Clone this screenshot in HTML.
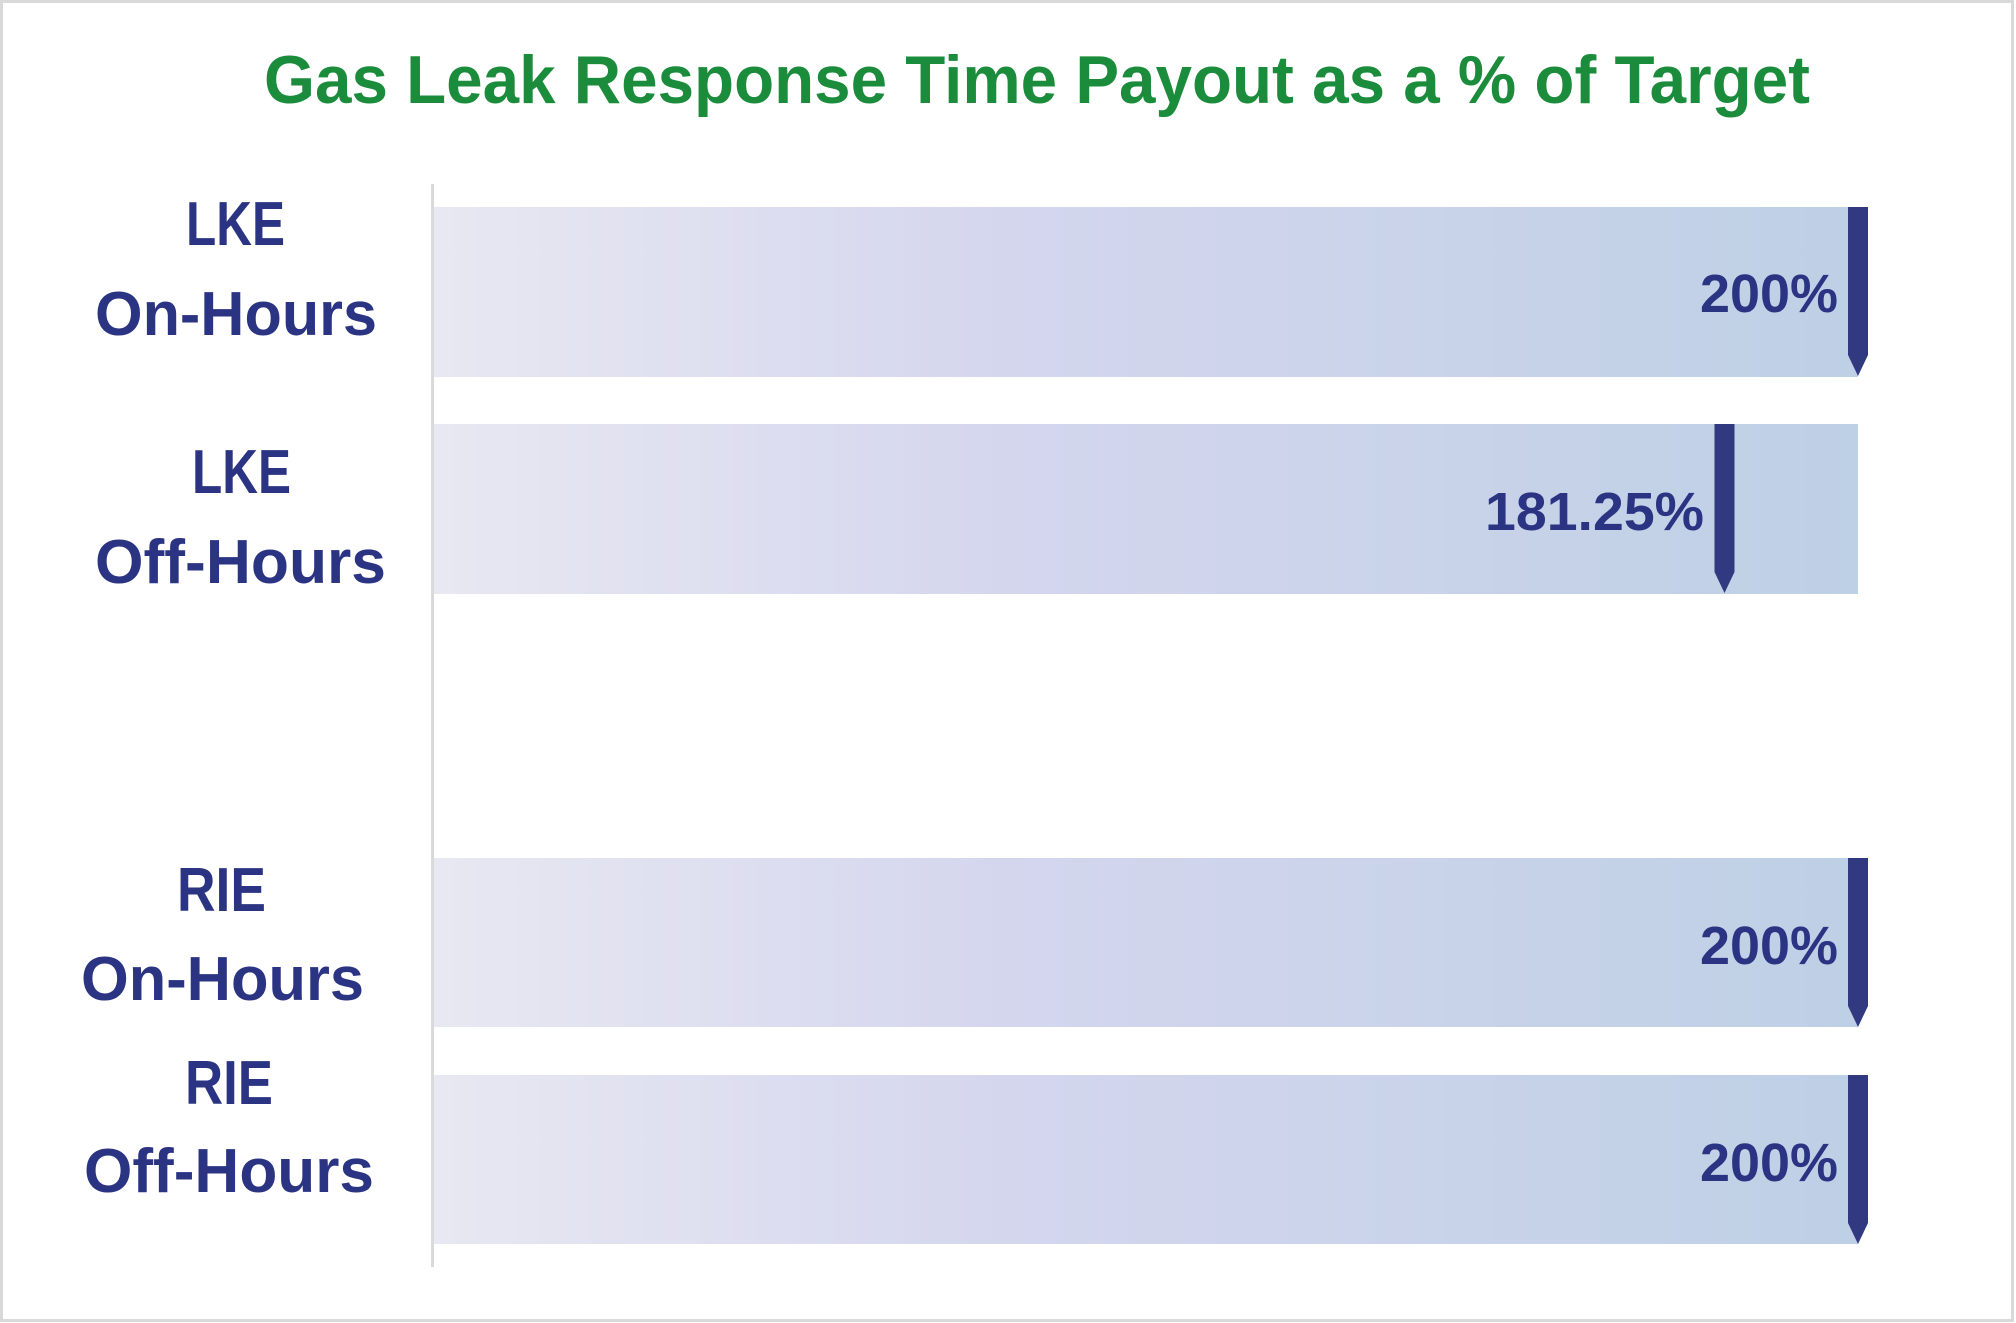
<!DOCTYPE html>
<html>
<head>
<meta charset="utf-8">
<style>
  html, body { margin: 0; padding: 0; background: #ffffff; }
  svg { display: block; }
  text { font-family: "Liberation Sans", "DejaVu Sans", sans-serif; font-weight: bold; }
</style>
</head>
<body>
<svg width="2016" height="1323" viewBox="0 0 2016 1323" xmlns="http://www.w3.org/2000/svg">
  <defs>
    <linearGradient id="bg" x1="434" y1="0" x2="1858" y2="0" gradientUnits="userSpaceOnUse">
      <stop offset="0" stop-color="#E8E8F2"/>
      <stop offset="0.4" stop-color="#D4D6EE"/>
      <stop offset="1" stop-color="#BED0E5"/>
    </linearGradient>
  </defs>
  <rect x="0" y="0" width="2016" height="1323" fill="#ffffff"/>
  <rect x="1.5" y="1.5" width="2011" height="1319" fill="none" stroke="#D9D9D9" stroke-width="3"/>

  <!-- Title -->
  <text x="264" y="103" font-size="68" fill="#1B8C3B" textLength="1546" lengthAdjust="spacingAndGlyphs">Gas Leak Response Time Payout as a % of Target</text>

  <!-- Axis line -->
  <rect x="431" y="184" width="3" height="1083" fill="#D9D9D9"/>

  <!-- Bars -->
  <rect x="434" y="207" width="1424" height="170" fill="url(#bg)"/>
  <rect x="434" y="424" width="1424" height="170" fill="url(#bg)"/>
  <rect x="434" y="858" width="1424" height="169" fill="url(#bg)"/>
  <rect x="434" y="1075" width="1424" height="169" fill="url(#bg)"/>

  <!-- Markers -->
  <polygon points="1848,207 1868,207 1868,355 1858,376 1848,355" fill="#313A80"/>
  <polygon points="1714.5,424 1734.5,424 1734.5,572 1724.5,593 1714.5,572" fill="#313A80"/>
  <polygon points="1848,858 1868,858 1868,1006 1858,1027 1848,1006" fill="#313A80"/>
  <polygon points="1848,1075 1868,1075 1868,1223 1858,1244 1848,1223" fill="#313A80"/>

  <!-- Category labels -->
  <g fill="#2B3483" font-size="62">
    <text x="186" y="245" textLength="99" lengthAdjust="spacingAndGlyphs">LKE</text>
    <text x="95" y="335" textLength="282" lengthAdjust="spacingAndGlyphs">On-Hours</text>
    <text x="192" y="493" textLength="99" lengthAdjust="spacingAndGlyphs">LKE</text>
    <text x="95" y="583" textLength="291" lengthAdjust="spacingAndGlyphs">Off-Hours</text>
    <text x="177" y="911" textLength="89" lengthAdjust="spacingAndGlyphs">RIE</text>
    <text x="81" y="1000" textLength="283" lengthAdjust="spacingAndGlyphs">On-Hours</text>
    <text x="185" y="1104" textLength="88" lengthAdjust="spacingAndGlyphs">RIE</text>
    <text x="84" y="1192" textLength="290" lengthAdjust="spacingAndGlyphs">Off-Hours</text>
  </g>

  <!-- Value labels -->
  <g fill="#2B3483" font-size="54">
    <text x="1700" y="312" textLength="138" lengthAdjust="spacingAndGlyphs">200%</text>
    <text x="1485" y="530" textLength="219" lengthAdjust="spacingAndGlyphs">181.25%</text>
    <text x="1700" y="964" textLength="138" lengthAdjust="spacingAndGlyphs">200%</text>
    <text x="1700" y="1181" textLength="138" lengthAdjust="spacingAndGlyphs">200%</text>
  </g>
</svg>
</body>
</html>
